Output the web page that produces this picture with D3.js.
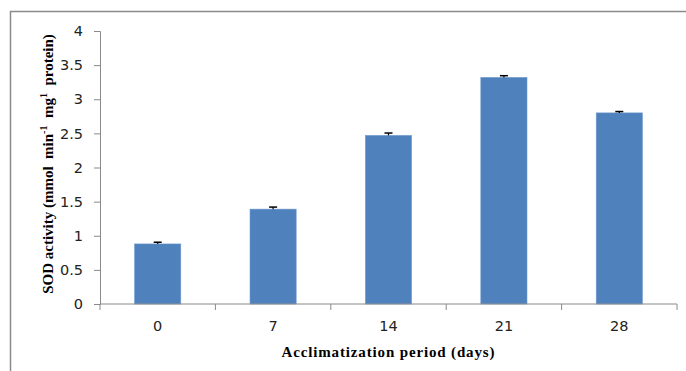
<!DOCTYPE html>
<html>
<head>
<meta charset="utf-8">
<script src="https://cdn.jsdelivr.net/npm/d3@7"></script>
<style>
  body { margin: 0; background: #fff; }
  .tick text { font-family: "DejaVu Sans", Verdana, sans-serif; font-size: 14.5px; fill: #222; }
</style>
</head>
<body>
<div class="canva"></div>
<script>
const days = ["0", "7", "14", "21", "28"]
const sod = [0.88, 1.39, 2.47, 3.32, 2.80]
const sodErr = [0.025, 0.03, 0.035, 0.025, 0.02]
const yTicks = [0, 0.5, 1, 1.5, 2, 2.5, 3, 3.5, 4]

const W = 686, H = 371
const m = { left: 100, right: 9, top: 31, bottom: 67 }

const svg = d3.select(".canva").append("svg")
    .attr("width", W)
    .attr("height", H)

// outer frame (only top and left edges visible)
svg.append("path")
    .attr("d", `M10.5,${H} V11.5 H${W}`)
    .attr("fill", "none")
    .attr("stroke", "#8a8a8a")
    .attr("stroke-width", 1.5)

const x = d3.scaleBand().domain(days).range([m.left, W - m.right]).paddingInner(0.6).paddingOuter(0.3)
const y = d3.scaleLinear().domain([0, 4]).range([H - m.bottom, m.top])

svg.selectAll("rect.bar")
    .data(days)
    .enter().append("rect")
    .attr("class", "bar")
    .attr("x", d => x(d))
    .attr("y", (d, i) => y(sod[i]))
    .attr("width", x.bandwidth())
    .attr("height", (d, i) => y(0) - y(sod[i]))
    .attr("fill", "#4f81bd")
    .attr("stroke", "#6d98cc")
    .attr("stroke-width", 0.6)

// error bars, upward only
const eb = svg.selectAll("g.err").data(days).enter().append("g").attr("class", "err")
eb.append("line")
    .attr("x1", d => x(d) + x.bandwidth() / 2)
    .attr("x2", d => x(d) + x.bandwidth() / 2)
    .attr("y1", (d, i) => y(sod[i]))
    .attr("y2", (d, i) => y(sod[i] + sodErr[i]))
    .attr("stroke", "#000").attr("stroke-width", 1.2)
eb.append("line")
    .attr("x1", d => x(d) + x.bandwidth() / 2 - 4)
    .attr("x2", d => x(d) + x.bandwidth() / 2 + 4)
    .attr("y1", (d, i) => y(sod[i] + sodErr[i]))
    .attr("y2", (d, i) => y(sod[i] + sodErr[i]))
    .attr("stroke", "#000").attr("stroke-width", 1.5)

// y axis
const yAxis = svg.append("g")
    .attr("transform", `translate(${m.left},0)`)
    .call(d3.axisLeft(y).tickValues(yTicks).tickFormat(d3.format("")).tickSize(6).tickPadding(11))
yAxis.selectAll("line, path").attr("stroke", "#8a8a8a")

// x axis with ticks between categories
const xAxis = svg.append("g")
    .attr("transform", `translate(0,${y(0)})`)
    .call(d3.axisBottom(x).tickSize(0).tickPadding(17))
xAxis.select("path").attr("stroke", "#8a8a8a").attr("d", `M${m.left},0H${W - m.right}`)
const bounds = d3.range(days.length + 1).map(i => m.left + i * (W - m.right - m.left) / days.length)
xAxis.selectAll("line.sep").data(bounds).enter().append("line")
    .attr("class", "sep")
    .attr("x1", d => d).attr("x2", d => d)
    .attr("y1", 0).attr("y2", 6)
    .attr("stroke", "#8a8a8a")

// axis titles
svg.append("text")
    .attr("x", 388).attr("y", 357)
    .attr("text-anchor", "middle")
    .attr("textLength", 213)
    .attr("lengthAdjust", "spacing")
    .style("font-family", "'Liberation Serif', 'Times New Roman', serif")
    .style("font-weight", "bold")
    .style("font-size", "15px")
    .text("Acclimatization period (days)")

const yt = svg.append("text")
    .attr("transform", "translate(53,164) rotate(-90)")
    .attr("text-anchor", "middle")
    .style("font-family", "'Liberation Serif', 'Times New Roman', serif")
    .style("font-weight", "bold")
    .style("font-size", "15px")
    .style("white-space", "pre")
yt.append("tspan").text("SOD activity (mmol  min")
yt.append("tspan").attr("dy", -6).style("font-size", "10px").text("-1")
yt.append("tspan").attr("dy", 6).text("  mg")
yt.append("tspan").attr("dy", -6).style("font-size", "10px").text("1")
yt.append("tspan").attr("dy", 6).text("  protein)")
</script>
</body>
</html>
